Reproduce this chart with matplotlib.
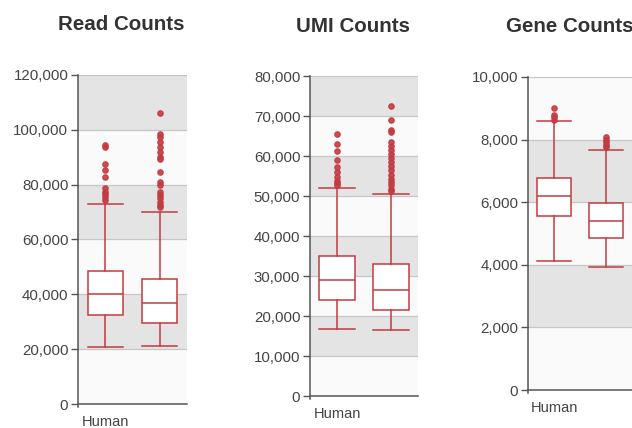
import numpy as np
import matplotlib
matplotlib.use('Agg')
from matplotlib import pyplot as plt
from matplotlib.ticker import FuncFormatter

plt.rcParams['font.family'] = ['Liberation Sans', 'DejaVu Sans']

groups = ['Human', '']

# Read Counts
read_whislo = [20900, 21000]
read_q1 = [32500, 29700]
read_med = [40000, 36700]
read_q3 = [48600, 45600]
read_whishi = [72900, 70100]
read_fliers = [
    [94500, 93600, 87400, 85300, 82900, 78700, 77500, 76500, 75400, 74400],
    [106000, 98500, 97300, 95700, 93900, 92000, 90200, 89300, 84800, 81100,
     79900, 77500, 76200, 75000, 73800, 72600, 72000],
]

# UMI Counts
umi_whislo = [16700, 16500]
umi_q1 = [24000, 21500]
umi_med = [29000, 26600]
umi_q3 = [35100, 33000]
umi_whishi = [52100, 50600]
umi_fliers = [
    [65600, 62900, 61300, 58900, 57300, 56000, 54700, 53700, 53200, 52700],
    [72500, 69000, 66500, 66000, 63500, 62400, 61400, 60600, 59400, 58500,
     57400, 56400, 55200, 54300, 53500, 52700, 51800, 51200],
]

# Gene Counts
gene_whislo = [4120, 3940]
gene_q1 = [5570, 4860]
gene_med = [6190, 5410]
gene_q3 = [6770, 5980]
gene_whishi = [8580, 7680]
gene_fliers = [
    [9020, 8790, 8720, 8630],
    [8080, 8000, 7910, 7830, 7750],
]

red = '#c23b42'
band_grey = '#e4e4e4'
band_white = '#fafafa'


def make_stats(whislo, q1, med, q3, whishi, fliers):
    stats = []
    for i in range(len(med)):
        stats.append(dict(whislo=whislo[i], q1=q1[i], med=med[i], q3=q3[i],
                          whishi=whishi[i], fliers=fliers[i], label=groups[i]))
    return stats


def panel(rect, title, stats, ymax, step):
    ax = fig.add_axes(rect)
    ax.set_facecolor(band_white)
    ticks = np.arange(0, ymax + step, step)
    # alternating bands, white at the bottom
    for k, lo in enumerate(ticks[:-1]):
        if k % 2 == 1:
            ax.axhspan(lo, lo + step, color=band_grey, zorder=0, lw=0)
    for t in ticks[1:]:
        ax.axhline(t, color='#c6c6c6', lw=0.9, zorder=1)

    ax.bxp(stats, positions=[0.5, 1.5], widths=0.65, patch_artist=True,
           boxprops=dict(facecolor='white', edgecolor=red, lw=1.1),
           medianprops=dict(color=red, lw=1.1),
           whiskerprops=dict(color=red, lw=1.1),
           capprops=dict(color=red, lw=1.1),
           capwidths=0.65,
           flierprops=dict(marker='o', markersize=3.8, markerfacecolor=red,
                           markeredgecolor=red, alpha=0.9),
           zorder=3)

    ax.set_xlim(0, 2)
    ax.set_ylim(0, ymax)
    ax.set_yticks(ticks)
    ax.yaxis.set_major_formatter(FuncFormatter(lambda v, p: '{:,.0f}'.format(v)))
    ax.set_xticks([0.5])
    ax.set_xticklabels(['Human'])
    ax.tick_params(axis='x', length=0, pad=8, labelsize=10.5, colors='#444444')
    ax.tick_params(axis='y', length=5, width=1, color='#555555',
                   labelsize=10.8, labelcolor='#444444', pad=2)
    for s in ['top', 'right']:
        ax.spines[s].set_visible(False)
    for s in ['left', 'bottom']:
        ax.spines[s].set_color('#555555')
        ax.spines[s].set_linewidth(1.1)
    ax.spines['left'].set_bounds(-ymax * 0.01, ymax)
    ax.text(0.4, 1.0 + 50 / (rect[3] * 428), title, transform=ax.transAxes,
            ha='center', va='center', fontsize=14.8, fontweight='bold',
            color='#333333')
    return ax


fig = plt.figure(figsize=(6.32, 4.28), dpi=100)
fig.patch.set_facecolor('white')

panel([78 / 632, 1 - 404 / 428, 109 / 632, 329 / 428], 'Read Counts',
      make_stats(read_whislo, read_q1, read_med, read_q3, read_whishi, read_fliers),
      120000, 20000)
panel([310 / 632, 1 - 396 / 428, 108 / 632, 320 / 428], 'UMI Counts',
      make_stats(umi_whislo, umi_q1, umi_med, umi_q3, umi_whishi, umi_fliers),
      80000, 10000)
panel([528 / 632, 1 - 390 / 428, 104 / 632, 313 / 428], 'Gene Counts',
      make_stats(gene_whislo, gene_q1, gene_med, gene_q3, gene_whishi, gene_fliers),
      10000, 2000)

fig.savefig('out.png', dpi=100)
